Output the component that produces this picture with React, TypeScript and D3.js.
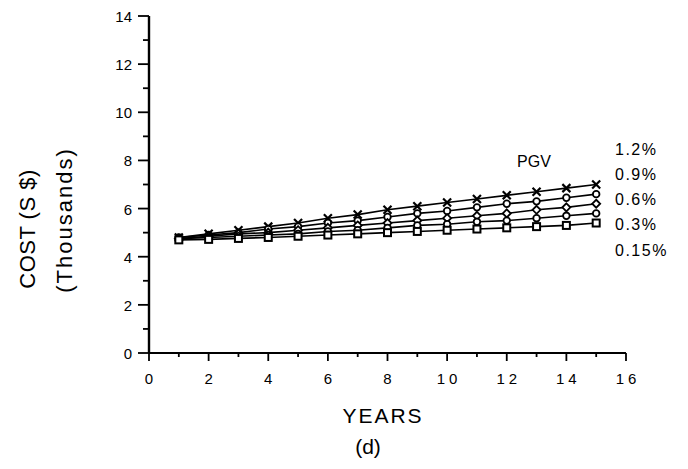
import React from 'react';
import * as d3 from 'd3';

const years = [1, 2, 3, 4, 5, 6, 7, 8, 9, 10, 11, 12, 13, 14, 15];
const pgvLabels = ['1.2%', '0.9%', '0.6%', '0.3%', '0.15%'];
const cost12 = [4.8, 4.95, 5.1, 5.25, 5.4, 5.6, 5.75, 5.95, 6.1, 6.25, 6.4, 6.55, 6.7, 6.85, 7.0];
const cost09 = [4.8, 4.9, 5.0, 5.15, 5.25, 5.4, 5.5, 5.65, 5.8, 5.9, 6.05, 6.2, 6.3, 6.45, 6.6];
const cost06 = [4.75, 4.85, 4.95, 5.0, 5.1, 5.2, 5.3, 5.4, 5.5, 5.6, 5.7, 5.8, 5.95, 6.05, 6.2];
const cost03 = [4.75, 4.8, 4.85, 4.9, 4.95, 5.05, 5.1, 5.2, 5.3, 5.35, 5.45, 5.5, 5.6, 5.7, 5.8];
const cost015 = [4.7, 4.72, 4.76, 4.8, 4.85, 4.9, 4.95, 5.0, 5.05, 5.1, 5.15, 5.2, 5.25, 5.3, 5.4];
const xTicks = [0, 2, 4, 6, 8, 10, 12, 14, 16];
const yTicks = [0, 2, 4, 6, 8, 10, 12, 14];

const series = [cost12, cost09, cost06, cost03, cost015];
const markers = ['cross', 'circle', 'diamond', 'circle', 'square'];

const font = 'Arial, "Liberation Sans", Helvetica, sans-serif';

function Marker({ kind, x, y }: { kind: string; x: number; y: number }) {
  const s = 4;
  if (kind === 'cross') {
    return (
      <path
        d={`M${x - s},${y - s}L${x + s},${y + s}M${x - s},${y + s}L${x + s},${y - s}`}
        stroke="#000"
        strokeWidth={2.2}
      />
    );
  }
  if (kind === 'diamond') {
    return (
      <path
        d={`M${x},${y - s}L${x + s},${y}L${x},${y + s}L${x - s},${y}Z`}
        fill="#fff"
        stroke="#000"
        strokeWidth={1.8}
      />
    );
  }
  if (kind === 'square') {
    return <rect x={x - 3.5} y={y - 3.5} width={7} height={7} fill="#fff" stroke="#000" strokeWidth={2} />;
  }
  return <circle cx={x} cy={y} r={3.3} fill="#fff" stroke="#000" strokeWidth={1.8} />;
}

export default function App() {
  const width = 688;
  const height = 469;
  const x = d3.scaleLinear().domain([0, 16]).range([149, 626]);
  const y = d3.scaleLinear().domain([0, 14]).range([353, 16]);
  const line = d3
    .line<number>()
    .x((d, i) => x(years[i]))
    .y(d => y(d));

  const labelY = [155, 180, 205, 230, 256];

  return (
    <svg width={width} height={height} style={{ position: 'absolute', left: 0, top: 0, background: '#fff' }}>
      {/* axes */}
      <line x1={x(0)} x2={x(0)} y1={y(14)} y2={y(0)} stroke="#000" strokeWidth={2.4} />
      <line x1={x(0)} x2={x(16)} y1={y(0)} y2={y(0)} stroke="#000" strokeWidth={2} />
      {d3.range(0, 15).map(v => (
        <line
          key={'yt' + v}
          x1={x(0)}
          x2={x(0) - (v % 2 === 0 ? 11 : 6)}
          y1={y(v)}
          y2={y(v)}
          stroke="#000"
          strokeWidth={1.8}
        />
      ))}
      {d3.range(0, 17).map(v => (
        <line
          key={'xt' + v}
          x1={x(v)}
          x2={x(v)}
          y1={y(0)}
          y2={y(0) + (v % 2 === 0 ? 8 : 4)}
          stroke="#000"
          strokeWidth={1.8}
        />
      ))}
      {yTicks.map(v => (
        <text key={'yl' + v} x={x(0) - 17} y={y(v) + 6} textAnchor="end" fontFamily={font} fontSize={15}>
          {v}
        </text>
      ))}
      {xTicks.map(v => (
        <text
          key={'xl' + v}
          x={x(v) + (v >= 10 ? 2 : 0)}
          y={y(0) + 31}
          textAnchor="middle"
          fontFamily={font}
          fontSize={15}
          letterSpacing={v >= 10 ? 4 : 0}
        >
          {v}
        </text>
      ))}

      {/* series */}
      {series.map((s, i) => (
        <path key={'l' + i} d={line(s) || ''} fill="none" stroke="#000" strokeWidth={1.6} />
      ))}
      {series.map((s, i) =>
        s.map((v, j) => <Marker key={'m' + i + '-' + j} kind={markers[i]} x={x(years[j])} y={y(v)} />)
      )}

      {/* legend labels */}
      <text x={534} y={167} textAnchor="middle" fontFamily={font} fontSize={16}>
        PGV
      </text>
      {pgvLabels.map((l, i) => (
        <text key={'pl' + i} x={615} y={labelY[i]} fontFamily={font} fontSize={16} letterSpacing={1.5}>
          {l}
        </text>
      ))}

      {/* axis titles */}
      <text
        transform="translate(35,229) rotate(-90)"
        textAnchor="middle"
        fontFamily={font}
        fontSize={22}
        letterSpacing={0.5}
      >
        COST (S $)
      </text>
      <text
        transform="translate(72,220) rotate(-90)"
        textAnchor="middle"
        fontFamily={font}
        fontSize={22}
        letterSpacing={2}
      >
        (Thousands)
      </text>
      <text x={383} y={423} textAnchor="middle" fontFamily={font} fontSize={21} letterSpacing={2}>
        YEARS
      </text>
      <text x={368} y={454} textAnchor="middle" fontFamily={font} fontSize={21}>
        (d)
      </text>
    </svg>
  );
}
